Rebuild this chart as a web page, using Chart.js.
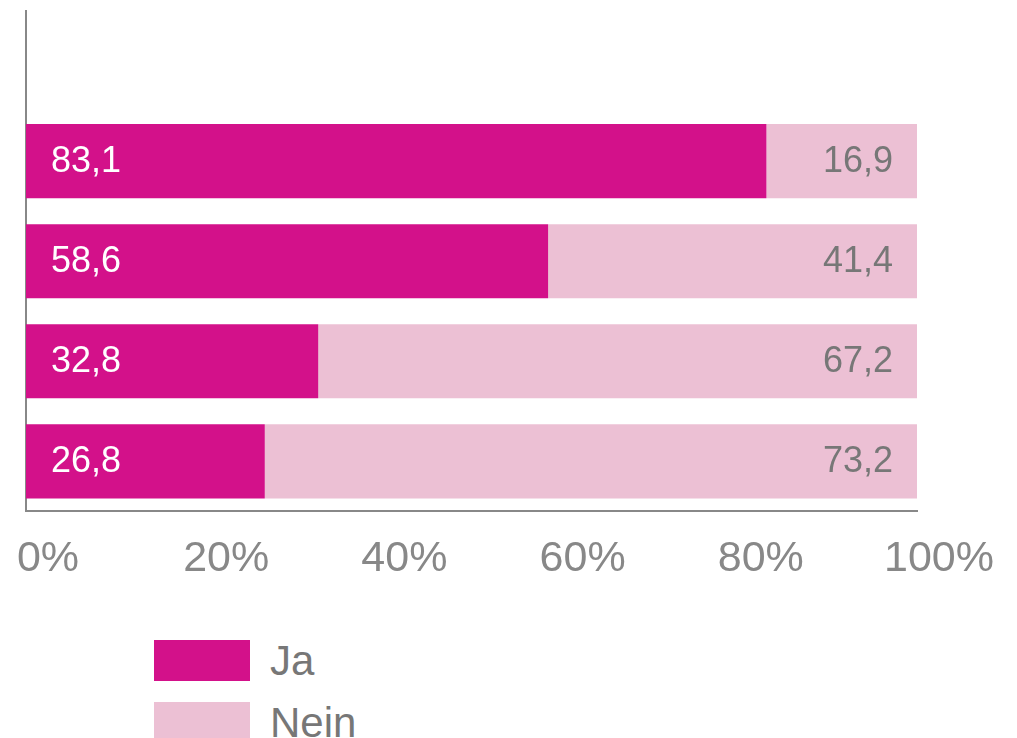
<!DOCTYPE html>
<html>
<head>
<meta charset="utf-8">
<script src="https://cdn.jsdelivr.net/npm/chart.js@4/dist/chart.umd.min.js"></script>
<style>
    body { margin: 0; background: #fff; font-family: "Liberation Sans", Arial, sans-serif; }
    #wrap { position: relative; width: 1017px; height: 624px; }
    #legend { position: absolute; left: 154px; top: 640px; }
    .item { display: flex; align-items: center; height: 41px; margin-bottom: 21px; }
    .box { width: 96px; height: 41px; margin-right: 20px; }
    .lbl { font-size: 42px; color: #777; }
</style>
</head>
<body>
<div id="wrap"><canvas id="barChart"></canvas></div>
<div id="legend"></div>
<script>
// first row is left empty in the original
const categories = ['', 'Frage 1', 'Frage 2', 'Frage 3', 'Frage 4'];
const jaValues = [null, 83.1, 58.6, 32.8, 26.8];
const neinValues = [null, 16.9, 41.4, 67.2, 73.2];
const tickValues = [0, 20, 40, 60, 80, 100];

const colorJa = '#d3118a';
const colorNein = '#ecc0d4';

function formatNumber(v) {
    return v.toFixed(1).replace('.', ',');
}

// values written inside the bars
const barValueLabels = {
    id: 'barValueLabels',
    afterDatasetsDraw(chart) {
        const ctx = chart.ctx;
        ctx.save();
        ctx.font = '36px "Liberation Sans", Arial, sans-serif';
        ctx.textBaseline = 'middle';
        chart.data.datasets.forEach((ds, i) => {
            const meta = chart.getDatasetMeta(i);
            meta.data.forEach((bar, j) => {
                const v = ds.data[j];
                if (v == null) return;
                if (i === 0) {
                    ctx.fillStyle = '#ffffff';
                    ctx.textAlign = 'left';
                    ctx.fillText(formatNumber(v), bar.base + 25, bar.y + 1);
                } else {
                    ctx.fillStyle = '#777777';
                    ctx.textAlign = 'right';
                    ctx.fillText(formatNumber(v), bar.x - 24, bar.y + 1);
                }
            });
        });
        ctx.restore();
    }
};

const ctx = document.getElementById('barChart').getContext('2d');
const chart = new Chart(ctx, {
    type: 'bar',
    data: {
        labels: categories,
        datasets: [
            { label: 'Ja', data: jaValues, backgroundColor: colorJa, borderWidth: 0 },
            { label: 'Nein', data: neinValues, backgroundColor: colorNein, borderWidth: 0 }
        ]
    },
    options: {
        indexAxis: 'y',
        responsive: true,
        maintainAspectRatio: false,
        animation: false,
        barPercentage: 0.74,
        categoryPercentage: 1.0,
        layout: { padding: { top: 11, left: 26, right: 100, bottom: 17 } },
        scales: {
            x: {
                stacked: true,
                min: 0,
                max: 100,
                afterBuildTicks: (axis) => { axis.ticks = tickValues.map(v => ({ value: v })); },
                afterFit: (axis) => { axis.paddingLeft = 0; axis.paddingRight = 0; },
                grid: { display: false, drawTicks: false },
                border: { display: true, color: '#888', width: 2 },
                ticks: {
                    padding: 22,
                    labelOffset: 22,
                    color: '#888',
                    font: { size: 43, family: '"Liberation Sans", Arial, sans-serif' },
                    callback: (v) => v + '%'
                }
            },
            y: {
                stacked: true,
                grid: { display: false, drawTicks: false },
                border: { display: true, color: '#888', width: 2 },
                ticks: { display: false }
            }
        },
        plugins: {
            legend: { display: false },
            tooltip: { enabled: false }
        }
    },
    plugins: [barValueLabels]
});

// legend below the chart, built from the datasets
const legendEl = document.getElementById('legend');
chart.data.datasets.forEach(ds => {
    const item = document.createElement('div');
    item.className = 'item';
    const box = document.createElement('div');
    box.className = 'box';
    box.style.background = ds.backgroundColor;
    const lbl = document.createElement('span');
    lbl.className = 'lbl';
    lbl.textContent = ds.label;
    item.appendChild(box);
    item.appendChild(lbl);
    legendEl.appendChild(item);
});
</script>
</body>
</html>
